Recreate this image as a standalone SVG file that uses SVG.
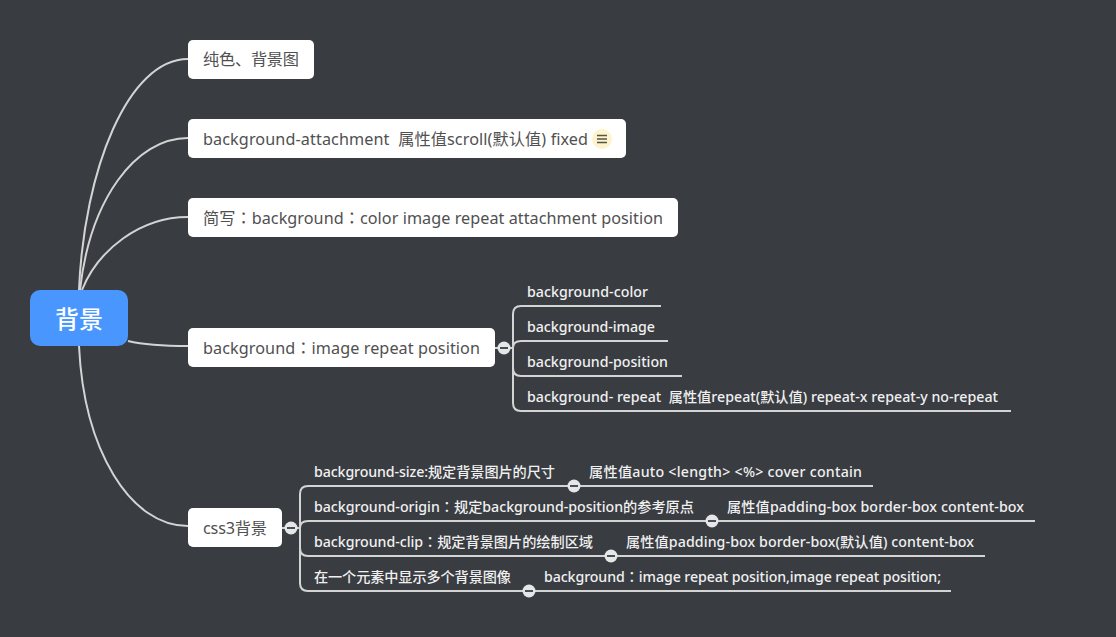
<svg xmlns="http://www.w3.org/2000/svg" width="1116" height="637" viewBox="0 0 1116 637">
<style>
text{font-family:"Noto Sans","Noto Sans CJK SC",sans-serif;white-space:pre}
.n{fill:#fff}
.t{font-size:16.2px;fill:#505050}
.s{font-size:14.200px;fill:#f0f0f0;font-weight:500}
.q{font-family:"Noto Sans CJK TC",sans-serif}
.c{fill:none;stroke:#d4d4d4;stroke-width:2}
.k{fill:#e4e6e8}
.m{stroke:#4a4d52;stroke-width:2;fill:none}
</style>
<rect width="1116" height="637" fill="#393c41"/>
<g id="connectors">
<path class="c" d="M79 290C84 170 128 59 188 59"/>
<path class="c" d="M80 290C90 200 135 138 188 138"/>
<path class="c" d="M82 290C98 250 140 217 188 217"/>
<path class="c" d="M128 341C145 345 165 346 188 346"/>
<path class="c" d="M79 346C84 450 130 526 188 526"/>
<path class="c" d="M495 348H513M513 348V314Q513 306 521 306H661M513 348Q513 341 521 341H668M513 348V368Q513 376 521 376H682M513 348V403Q513 411 521 411H1011"/>
<path class="c" d="M282 528H300M300 528V494Q300 486 308 486H873M300 528Q300 521 308 521H1035M300 528V548Q300 556 308 556H985M300 528V583Q300 591 308 591H951"/>
</g>
<g id="root"><rect x="30" y="290" width="98" height="56" rx="10" fill="#4a96ff"/><text x="79" y="328" text-anchor="middle" font-size="24" font-weight="500" fill="#fff">背景</text></g>
<g id="n1"><rect class="n" x="188" y="40" width="126" height="39" rx="5"/><text class="t" x="203" y="65" textLength="96">纯色、背景图</text></g>
<g id="n2"><rect class="n" x="188" y="119" width="438" height="39" rx="5"/><text class="t" x="203" y="145" textLength="385">background-attachment  属性值scroll(默认值) fixed</text><circle cx="602" cy="139" r="10" fill="#fdf3cd"/><path d="M597 135.500H607M597 139H607M597 142.500H607" stroke="#55534a" stroke-width="1.500"/></g>
<g id="n3"><rect class="n" x="188" y="198" width="490" height="39" rx="5"/><text class="t" x="203" y="224" textLength="460">简写<tspan class="q">：</tspan>background<tspan class="q">：</tspan>color image repeat attachment position</text></g>
<g id="n4"><rect class="n" x="188" y="328" width="307" height="39" rx="5"/><text class="t" x="203" y="354" textLength="277">background<tspan class="q">：</tspan>image repeat position</text></g>
<g id="n4c"><circle class="k" cx="504" cy="348" r="6.500"/><path class="m" d="M500 348H508"/></g>
<g id="n41"><text class="s" x="527" y="297" textLength="121">background-color</text></g>
<g id="n42"><text class="s" x="527" y="332" textLength="128">background-image</text></g>
<g id="n43"><text class="s" x="527" y="367" textLength="141">background-position</text></g>
<g id="n44"><text class="s" x="527" y="402" textLength="471">background- repeat  属性值repeat(默认值) repeat-x repeat-y no-repeat</text></g>
<g id="n5"><rect class="n" x="188" y="508" width="94" height="39" rx="5"/><text class="t" x="203" y="534" textLength="64">css3背景</text></g>
<g id="n5c"><circle class="k" cx="291" cy="528" r="6.500"/><path class="m" d="M287 528H295"/></g>
<g id="n51"><text class="s" x="314" y="477" textLength="241">background-size:规定背景图片的尺寸</text><circle class="k" cx="574" cy="486" r="6.500"/><path class="m" d="M570 486H578"/><text class="s" x="589" y="477" textLength="273">属性值auto &lt;length&gt; &lt;%&gt; cover contain</text></g>
<g id="n52"><text class="s" x="314" y="512" textLength="380">background-origin<tspan class="q">：</tspan>规定background-position的参考原点</text><circle class="k" cx="712" cy="521" r="6.500"/><path class="m" d="M708 521H716"/><text class="s" x="727" y="512" textLength="297">属性值padding-box border-box content-box</text></g>
<g id="n53"><text class="s" x="314" y="547" textLength="279">background-clip<tspan class="q">：</tspan>规定背景图片的绘制区域</text><circle class="k" cx="611" cy="556" r="6.500"/><path class="m" d="M607 556H615"/><text class="s" x="626" y="547" textLength="348">属性值padding-box border-box(默认值) content-box</text></g>
<g id="n54"><text class="s" x="314" y="582" textLength="197">在一个元素中显示多个背景图像</text><circle class="k" cx="529" cy="591" r="6.500"/><path class="m" d="M525 591H533"/><text class="s" x="544" y="582" textLength="397">background<tspan class="q">：</tspan>image repeat position,image repeat position;</text></g>
</svg>
